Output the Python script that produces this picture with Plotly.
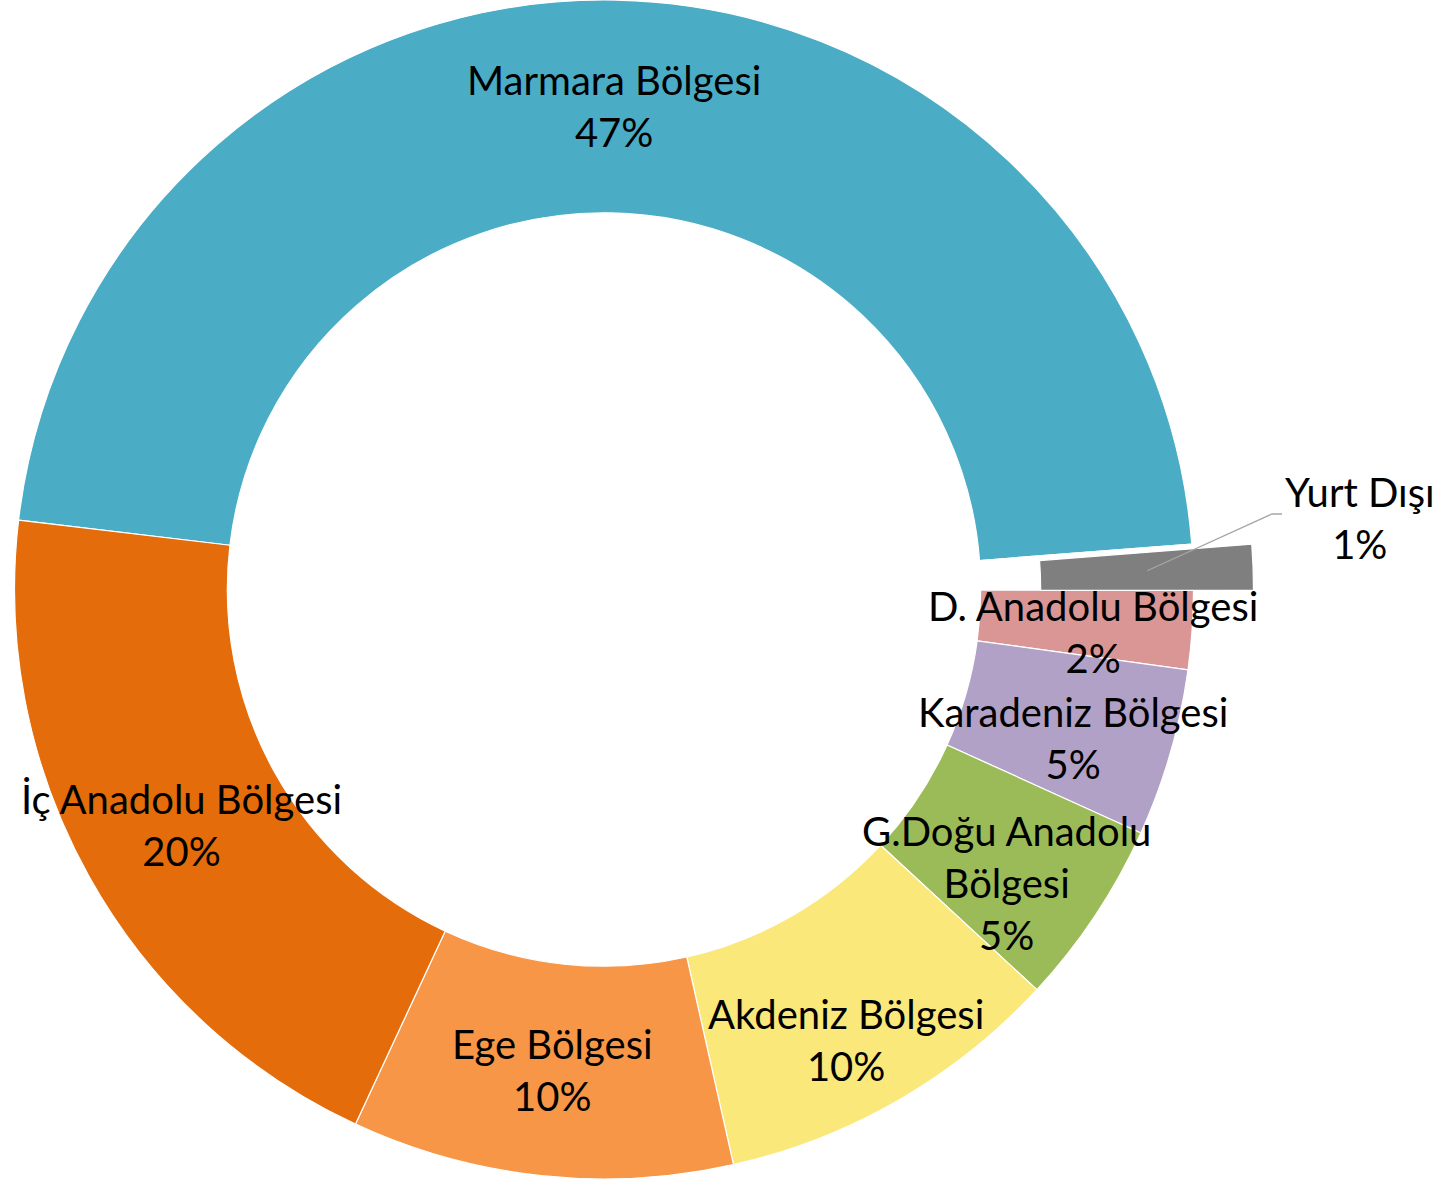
import math
import plotly.graph_objects as go

# ---- data ----
regions = ["Marmara Bölgesi", "Yurt Dışı", "D. Anadolu Bölgesi", "Karadeniz Bölgesi",
           "G.Doğu Anadolu Bölgesi", "Akdeniz Bölgesi", "Ege Bölgesi", "İç Anadolu Bölgesi"]
shares = [46.9, 1.25, 2.15, 4.6, 5.1, 9.6, 10.45, 19.95]
colors = ["#4BACC6", "#7F7F7F", "#D99694", "#B2A1C7", "#9BBB59", "#FAE87A", "#F79646", "#E46C0A"]
pulled = "Yurt Dışı"

# ---- layout geometry ----
W, H = 1437, 1185
CX, CY, R = 604, 589, 590
R_IN = 377
HOLE = R_IN / R
PULL_PX = 60
ROTATION = -83.25  # start of first slice, degrees clockwise from 12 o'clock
FONT = "Lato"
FSIZE = 40

# label nudges (px) to mimic the reference's label placement
nudge = {"Akdeniz Bölgesi": (0, 32), "G.Doğu Anadolu Bölgesi": (0, 27),
         "Karadeniz Bölgesi": (4, 15), "D. Anadolu Bölgesi": (7, 10)}
wrap = {"G.Doğu Anadolu Bölgesi": "G.Doğu Anadolu<br>Bölgesi"}


def px2paper(x, y):
    return x / W, 1 - y / H


dom_x = [(CX - R) / W, (CX + R) / W]
dom_y = [1 - (CY + R) / H, 1 - (CY - R) / H]
dom_y = [max(0, dom_y[0]), min(1, dom_y[1])]

main_colors = ["rgba(0,0,0,0)" if r == pulled else c for r, c in zip(regions, colors)]
pull_colors = [c if r == pulled else "rgba(0,0,0,0)" for r, c in zip(regions, colors)]
pull_lines = ["#FFFFFF" if r == pulled else "rgba(0,0,0,0)" for r in regions]

fig = go.Figure()
fig.add_trace(go.Pie(
    labels=regions, values=shares, sort=False, direction="clockwise",
    rotation=ROTATION, hole=HOLE, textinfo="none", hoverinfo="label+percent",
    marker=dict(colors=main_colors, line=dict(color="#FFFFFF", width=1.2)),
    domain=dict(x=dom_x, y=dom_y), showlegend=False,
))
fig.add_trace(go.Pie(
    labels=regions, values=shares, sort=False, direction="clockwise",
    rotation=ROTATION, hole=HOLE, textinfo="none", hoverinfo="label+percent",
    marker=dict(colors=pull_colors, line=dict(color=pull_lines, width=1.2)),
    domain=dict(x=[dom_x[0] + PULL_PX / W, dom_x[1] + PULL_PX / W], y=dom_y),
    showlegend=False,
))

total = sum(shares)
annotations = []
shapes = []
cum = 0.0
r_mid = (R + R_IN) / 2
for reg, v in zip(regions, shares):
    a0 = ROTATION + cum / total * 360
    a1 = ROTATION + (cum + v) / total * 360
    cum += v
    amid = math.radians((a0 + a1) / 2)  # clockwise from 12 o'clock
    pct = f"{round(v / total * 100)}%"
    name = wrap.get(reg, reg)
    text = f"{name}<br>{pct}"
    if reg == pulled:
        sx = CX + PULL_PX + r_mid * math.sin(amid)
        sy = CY - r_mid * math.cos(amid)
        lx, ly = 1360, 518
        ex, ey = lx - 88, ly - 4
        p = [px2paper(sx, sy), px2paper(ex, ey), px2paper(ex + 10, ey)]
        shapes.append(dict(type="path", xref="paper", yref="paper",
                           path=f"M {p[0][0]} {p[0][1]} L {p[1][0]} {p[1][1]} L {p[2][0]} {p[2][1]}",
                           line=dict(color="#A6A6A6", width=1.3)))
    else:
        dx, dy = nudge.get(reg, (0, 0))
        lx = CX + r_mid * math.sin(amid) + dx
        ly = CY - r_mid * math.cos(amid) + dy
    ax, ay = px2paper(lx, ly)
    annotations.append(dict(x=ax, y=ay, xref="paper", yref="paper", text=text,
                            showarrow=False, xanchor="center", yanchor="middle",
                            align="center", font=dict(family=FONT, size=FSIZE, color="#000000")))

fig.update_layout(
    width=W, height=H, margin=dict(l=0, r=0, t=0, b=0),
    paper_bgcolor="#FFFFFF", plot_bgcolor="#FFFFFF",
    annotations=annotations, shapes=shapes, showlegend=False,
    font=dict(family=FONT),
)

fig.write_html("out.html", config={"displayModeBar": False},
               post_script="document.body.style.margin='0';document.body.style.overflow='hidden';")
